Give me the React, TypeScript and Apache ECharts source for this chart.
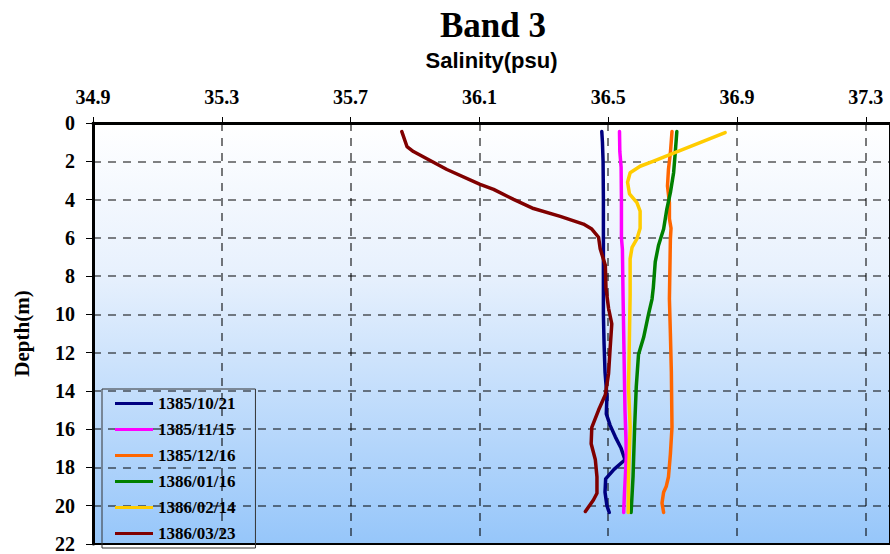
import React, { useEffect, useRef } from "react";
import * as echarts from "echarts";

// Salinity axis ticks (psu) and depth axis ticks (m)
const salinityTicks = [34.9, 35.3, 35.7, 36.1, 36.5, 36.9, 37.3];
const depthTicks = [0, 2, 4, 6, 8, 10, 12, 14, 16, 18, 20, 22];

const seriesNames = ["1385/10/21", "1385/11/15", "1385/12/16", "1386/01/16", "1386/02/14", "1386/03/23"];
const seriesColors = ["#000080", "#ff00ff", "#ff6600", "#008000", "#ffcc00", "#800000"];

// 1385/10/21
const depth1 = [0.45, 1.0, 2.0, 4.0, 6.0, 8.0, 10.0, 11.5, 13.0, 14.3, 15.2, 15.8, 16.4, 17.0, 17.6, 18.1, 18.6, 19.3, 20.0, 20.35];
const sal1 = [36.48, 36.482, 36.484, 36.485, 36.485, 36.485, 36.485, 36.487, 36.49, 36.496, 36.494, 36.506, 36.522, 36.54, 36.552, 36.518, 36.492, 36.49, 36.496, 36.503];

// 1385/11/15
const depth2 = [0.45, 1.5, 2.3, 4.0, 6.0, 6.6, 9.0, 11.0, 13.0, 15.0, 16.5, 17.5, 18.5, 19.5, 20.35];
const sal2 = [36.535, 36.536, 36.54, 36.541, 36.541, 36.544, 36.546, 36.548, 36.55, 36.552, 36.555, 36.556, 36.553, 36.55, 36.548];

// 1385/12/16
const depth3 = [0.45, 1.57, 2.43, 3.3, 4.16, 5.0, 5.5, 6.06, 9.2, 11.0, 13.0, 15.9, 17.3, 18.5, 19.0, 19.3, 19.86, 20.35];
const sal3 = [36.698, 36.693, 36.687, 36.684, 36.69, 36.69, 36.695, 36.693, 36.69, 36.693, 36.696, 36.698, 36.693, 36.687, 36.68, 36.672, 36.667, 36.672];

// 1386/01/16
const depth4 = [0.45, 1.57, 2.6, 3.64, 4.5, 5.54, 6.4, 7.26, 8.6, 9.2, 10.0, 11.2, 12.1, 13.8, 15.9, 18.5, 20.35];
const sal4 = [36.713, 36.708, 36.703, 36.693, 36.682, 36.672, 36.656, 36.646, 36.64, 36.636, 36.625, 36.61, 36.594, 36.587, 36.582, 36.577, 36.571];

// 1386/02/14
const depth5 = [0.5, 1.0, 1.57, 2.0, 2.26, 2.6, 3.1, 3.7, 4.16, 4.6, 5.5, 6.06, 6.5, 7.1, 9.0, 11.0, 13.8, 15.9, 18.5, 20.35];
const sal5 = [36.863, 36.789, 36.703, 36.639, 36.599, 36.568, 36.56, 36.566, 36.589, 36.599, 36.599, 36.589, 36.574, 36.568, 36.568, 36.566, 36.563, 36.568, 36.563, 36.562];

// 1386/03/23
const depth6 = [0.45, 1.23, 1.49, 2.43, 3.21, 3.47, 3.99, 4.47, 4.88, 5.28, 5.54, 5.97, 6.57, 7.44, 8.64, 9.68, 10.5, 11.75, 13.1, 14.2, 15.0, 15.9, 16.76, 17.6, 18.5, 19.35, 19.7, 20.3];
const sal6 = [35.859, 35.875, 35.895, 35.999, 36.102, 36.144, 36.206, 36.268, 36.351, 36.423, 36.449, 36.47, 36.475, 36.491, 36.493, 36.501, 36.511, 36.506, 36.501, 36.491, 36.47, 36.449, 36.447, 36.46, 36.465, 36.465, 36.454, 36.429];

const depthSets = [depth1, depth2, depth3, depth4, depth5, depth6];
const salSets = [sal1, sal2, sal3, sal4, sal5, sal6];

const serifBold = { fontFamily: "Liberation Serif", fontWeight: "bold" as const, color: "#000" };

export default function App() {
  const ref = useRef<HTMLDivElement>(null);

  useEffect(() => {
    if (!ref.current) return;
    const chart = echarts.init(ref.current, undefined, { renderer: "svg" });

    const series = seriesNames.map((name, i) => ({
      name,
      type: "line",
      xAxisIndex: 0,
      yAxisIndex: 0,
      symbol: "none",
      showSymbol: false,
      color: seriesColors[i],
      lineStyle: { width: 3.5, color: seriesColors[i], cap: "round", join: "round" },
      data: depthSets[i].map((d, k) => [salSets[i][k], d]),
    }));

    chart.setOption({
      animation: false,
      backgroundColor: "#ffffff",
      graphic: [
        {
          type: "text",
          x: 493,
          y: 25,
          style: {
            text: "Band 3",
            fontFamily: "Liberation Serif",
            fontWeight: "bold",
            fontSize: 35,
            fill: "#000",
            align: "center",
            verticalAlign: "middle",
          },
        },
      ],
      grid: {
        left: 93,
        top: 123,
        right: 0,
        bottom: 6,
        show: true,
        borderColor: "#000",
        borderWidth: 2,
        backgroundColor: new echarts.graphic.LinearGradient(0, 0, 0, 1, [
          { offset: 0, color: "#ffffff" },
          { offset: 0.35, color: "#e8f1fd" },
          { offset: 1, color: "#96c6fa" },
        ]),
      },
      legend: {
        orient: "vertical",
        left: 102,
        top: 389,
        padding: [6, 20, 6, 13],
        itemGap: 9,
        itemWidth: 38,
        itemHeight: 3,
        icon: "rect",
        borderColor: "#333",
        borderWidth: 1,
        backgroundColor: "transparent",
        data: seriesNames,
        textStyle: { ...serifBold, fontSize: 17, lineHeight: 17 },
      },
      xAxis: {
        type: "value",
        position: "top",
        min: salinityTicks[0],
        max: 37.375,
        interval: 0.4,
        name: "Salinity(psu)",
        nameLocation: "middle",
        nameGap: 52,
        nameTextStyle: { fontFamily: "Liberation Sans", fontWeight: "bold", fontSize: 22, color: "#000" },
        axisLine: { show: true, lineStyle: { color: "#000", width: 3 } },
        axisTick: { show: true, length: 6, lineStyle: { color: "#000", width: 1 } },
        axisLabel: {
          ...serifBold,
          fontSize: 20,
          margin: 16,
          showMaxLabel: false,
          formatter: (v: number) => v.toFixed(1),
        },
        splitLine: { show: true, lineStyle: { color: "rgba(0,0,0,0.7)", type: [8, 7], width: 1.5 } },
      },
      yAxis: {
        type: "value",
        inverse: true,
        min: depthTicks[0],
        max: depthTicks[depthTicks.length - 1],
        interval: 2,
        name: "Depth(m)",
        nameLocation: "middle",
        nameRotate: 90,
        nameGap: 61,
        nameTextStyle: { ...serifBold, fontSize: 21 },
        axisLine: { show: true, lineStyle: { color: "#000", width: 3 } },
        axisTick: { show: true, length: 7, lineStyle: { color: "#000", width: 1 } },
        axisLabel: { ...serifBold, fontSize: 20, margin: 18, showMaxLabel: true, showMinLabel: true },
        splitLine: { show: true, lineStyle: { color: "rgba(0,0,0,0.65)", type: [8, 7], width: 1.5 } },
      },
      series,
    });

    return () => chart.dispose();
  }, []);

  return (
    <div
      ref={ref}
      style={{ position: "absolute", left: 0, top: 0, width: 890, height: 554, background: "#fff" }}
    />
  );
}
